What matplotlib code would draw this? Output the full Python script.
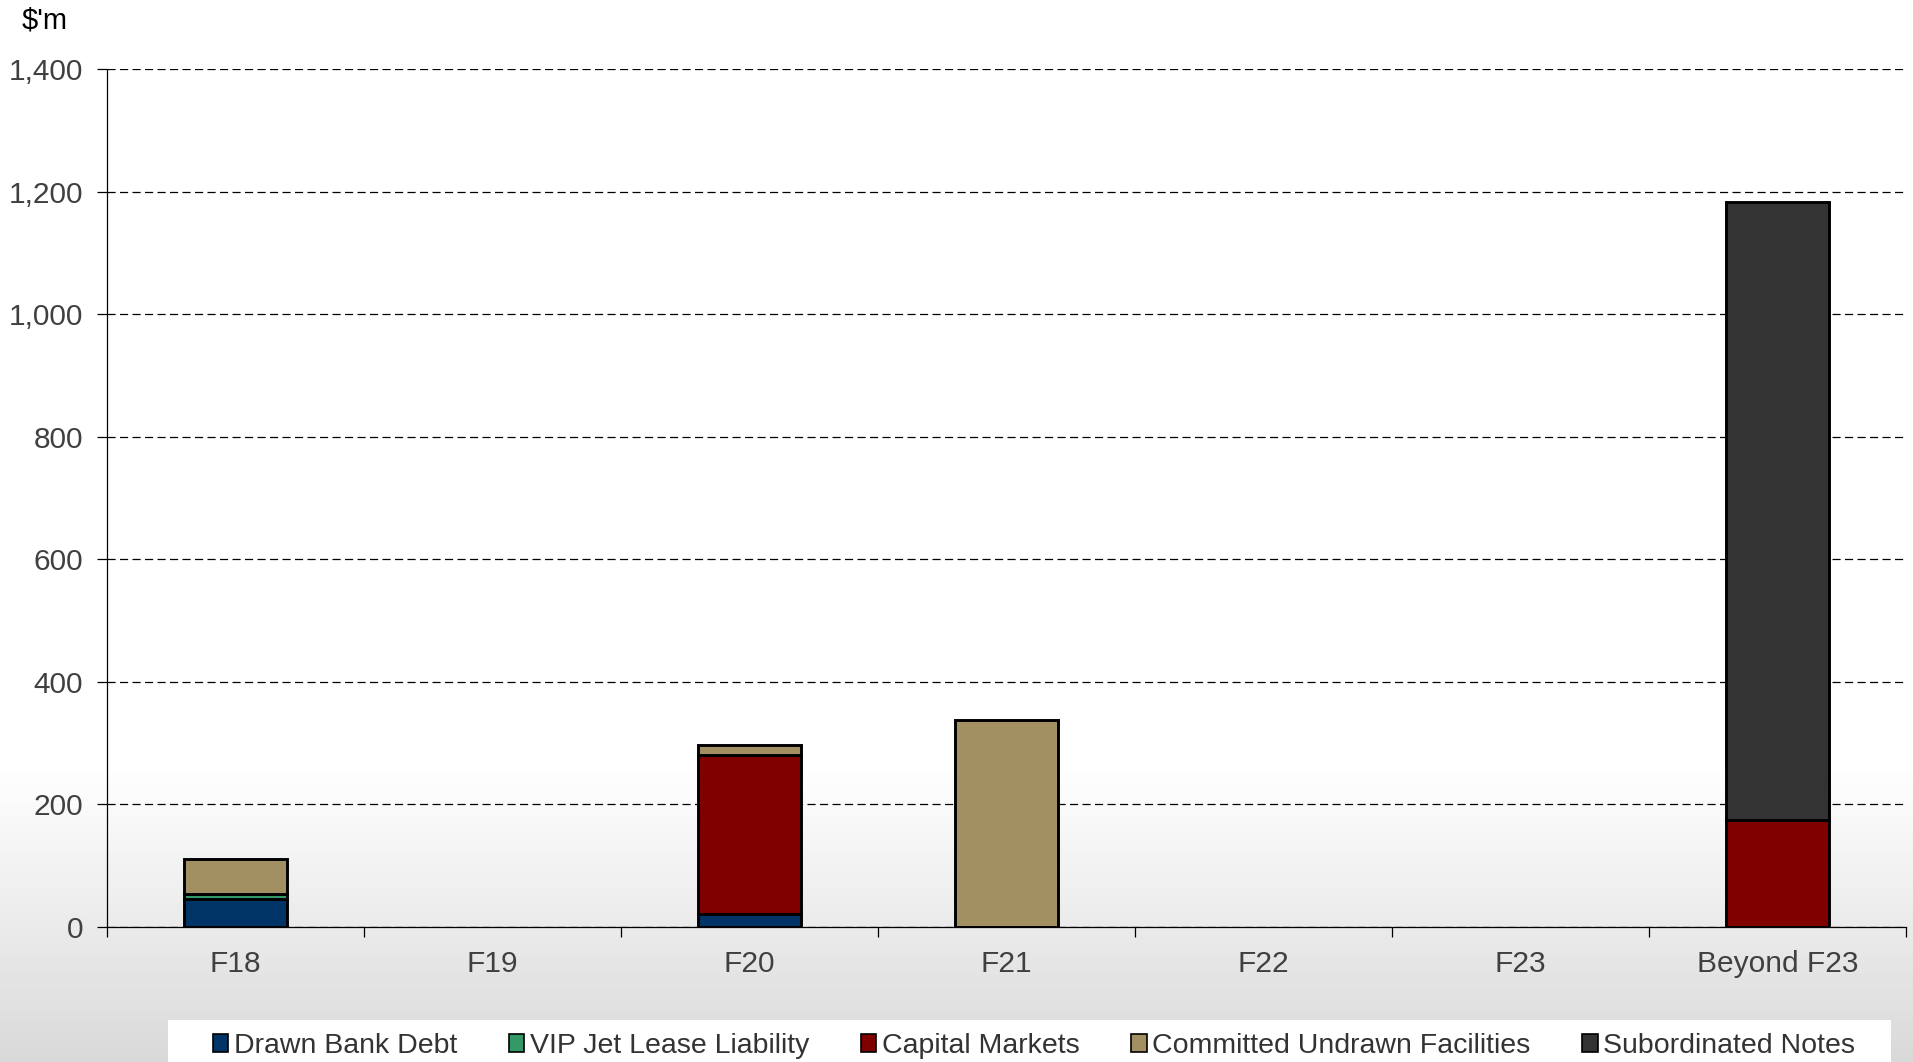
import numpy as np
import matplotlib
matplotlib.use('Agg')
import matplotlib.pyplot as plt
from matplotlib.patches import Patch, Rectangle
from matplotlib.ticker import FuncFormatter, FixedLocator

categories = ['F18', 'F19', 'F20', 'F21', 'F22', 'F23', 'Beyond F23']
drawn_bank_debt = [45, 0, 21, 0, 0, 0, 0]
vip_jet_lease = [8, 0, 0, 0, 0, 0, 0]
capital_markets = [0, 0, 259, 0, 0, 0, 175]
committed_undrawn = [57, 0, 16, 337, 0, 0, 0]
subordinated_notes = [0, 0, 0, 0, 0, 0, 1008]

series = [
    ('Drawn Bank Debt', drawn_bank_debt, '#003366'),
    ('VIP Jet Lease Liability', vip_jet_lease, '#339966'),
    ('Capital Markets', capital_markets, '#800000'),
    ('Committed Undrawn Facilities', committed_undrawn, '#a39062'),
    ('Subordinated Notes', subordinated_notes, '#333333'),
]

plt.rcParams['font.family'] = ['Liberation Sans', 'DejaVu Sans']

fig = plt.figure(figsize=(19.13, 10.62), dpi=100)

# background: white fading to light grey at the bottom
bg = fig.add_axes([0, 0, 1, 1], zorder=-10)
rows = np.linspace(0, 1, 300)  # 0 at bottom
start = 0.28
shade = np.clip((start - rows) / start, 0, 1)
grad = 1 - shade * 0.15
bg.imshow(grad[:, None], aspect='auto', cmap='gray', vmin=0, vmax=1,
          origin='lower', extent=[0, 1, 0, 1])
bg.set_xlim(0, 1)
bg.set_ylim(0, 1)
bg.axis('off')

ax = fig.add_axes([0.0559, 0.1274, 0.9404, 0.8072])
ax.set_facecolor('none')

x = np.arange(len(categories))
bottom = np.zeros(len(categories))
for name, vals, color in series:
    vals = np.array(vals, dtype=float)
    mask = vals > 0
    ax.bar(x[mask], vals[mask], width=0.4, bottom=bottom[mask], color=color,
           edgecolor='black', linewidth=2.1, zorder=3)
    bottom += vals

ax.set_xlim(-0.5, len(categories) - 0.5)
ax.set_ylim(0, 1400)
ax.set_yticks(np.arange(0, 1401, 200))
ax.yaxis.set_major_formatter(FuncFormatter(lambda v, p: f'{int(v):,}'))
ax.yaxis.grid(True, linestyle=(0, (6.5, 3.5)), color='black', linewidth=0.9)
ax.set_axisbelow(True)

ax.set_xticks(x)
ax.set_xticklabels(categories)
ax.xaxis.set_minor_locator(FixedLocator(np.arange(-0.5, len(categories), 1.0)))
ax.tick_params(axis='x', which='major', length=0, pad=17, labelsize=21.5, labelcolor='#404040')
ax.tick_params(axis='x', which='minor', length=7, width=0.9, direction='out')
ax.tick_params(axis='y', length=7, width=0.9, direction='out', pad=10, labelsize=21.5,
               labelcolor='#404040')

for s in ['top', 'right']:
    ax.spines[s].set_visible(False)
ax.spines['left'].set_linewidth(0.9)
ax.spines['bottom'].set_linewidth(0.9)

fig.text(0.0115, 0.981, "$'m", fontsize=21, ha='left', va='center', color='black')

# legend box
fig.patches.append(Rectangle((168 / 1913, 0), (1891 - 168) / 1913, 42 / 1062,
                             transform=fig.transFigure, facecolor='white',
                             edgecolor='none', zorder=1))
handles = [Patch(facecolor=c, edgecolor='black', linewidth=1.2, label=n) for n, _, c in series]
leg = fig.legend(handles=handles, ncol=5, loc='center', bbox_to_anchor=(0.5405, 0.015),
                 frameon=False, fontsize=20.5, handlelength=0.55, handleheight=0.55,
                 handletextpad=0.2, columnspacing=1.8)
for t in leg.get_texts():
    t.set_color('#333333')

fig.savefig('out.png', dpi=100)
